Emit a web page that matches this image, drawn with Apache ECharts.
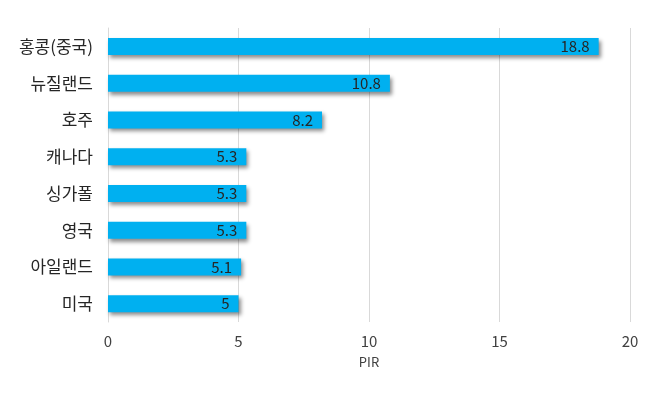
<!DOCTYPE html>
<html><head><meta charset="utf-8">
<script src="https://cdn.jsdelivr.net/npm/echarts@6/dist/echarts.min.js"></script>
<style>html,body{margin:0;padding:0;background:#fff}#c{width:658px;height:396px}</style>
</head><body><div id="c"></div>
<script>
const categories = ['홍콩(중국)', '뉴질랜드', '호주', '캐나다', '싱가폴', '영국', '아일랜드', '미국'];
const values = [18.8, 10.8, 8.2, 5.3, 5.3, 5.3, 5.1, 5];
const axisName = 'PIR';

const chart = echarts.init(document.getElementById('c'), null, {renderer: 'canvas'});
chart.setOption({
  animation: false,
  grid: {left: 108, right: 28, top: 28, bottom: 74},
  xAxis: {
    type: 'value', min: 0, max: 20, interval: 5,
    name: axisName, nameLocation: 'middle', nameGap: 34,
    nameTextStyle: {fontFamily: 'Noto Sans CJK KR', fontSize: 13, color: '#404040'},
    axisLine: {show: false}, axisTick: {show: false},
    axisLabel: {fontFamily: 'Noto Sans CJK KR', fontSize: 15, color: '#404040', margin: 12},
    splitLine: {lineStyle: {color: '#d9d9d9'}}
  },
  yAxis: {
    type: 'category', data: categories, inverse: true,
    axisLine: {lineStyle: {color: '#d9d9d9'}}, axisTick: {show: false},
    axisLabel: {fontFamily: 'Noto Sans CJK KR', fontSize: 17, color: '#262626', margin: 15}
  },
  series: [{
    type: 'bar', data: values, barWidth: 17,
    itemStyle: {color: '#00b0f0', shadowColor: 'rgba(0,0,0,0.45)', shadowBlur: 4, shadowOffsetX: 2, shadowOffsetY: 3},
    label: {show: true, position: 'insideRight', distance: 9, fontFamily: 'Noto Sans CJK KR', fontSize: 15, color: '#262626'}
  }]
});
</script></body></html>
